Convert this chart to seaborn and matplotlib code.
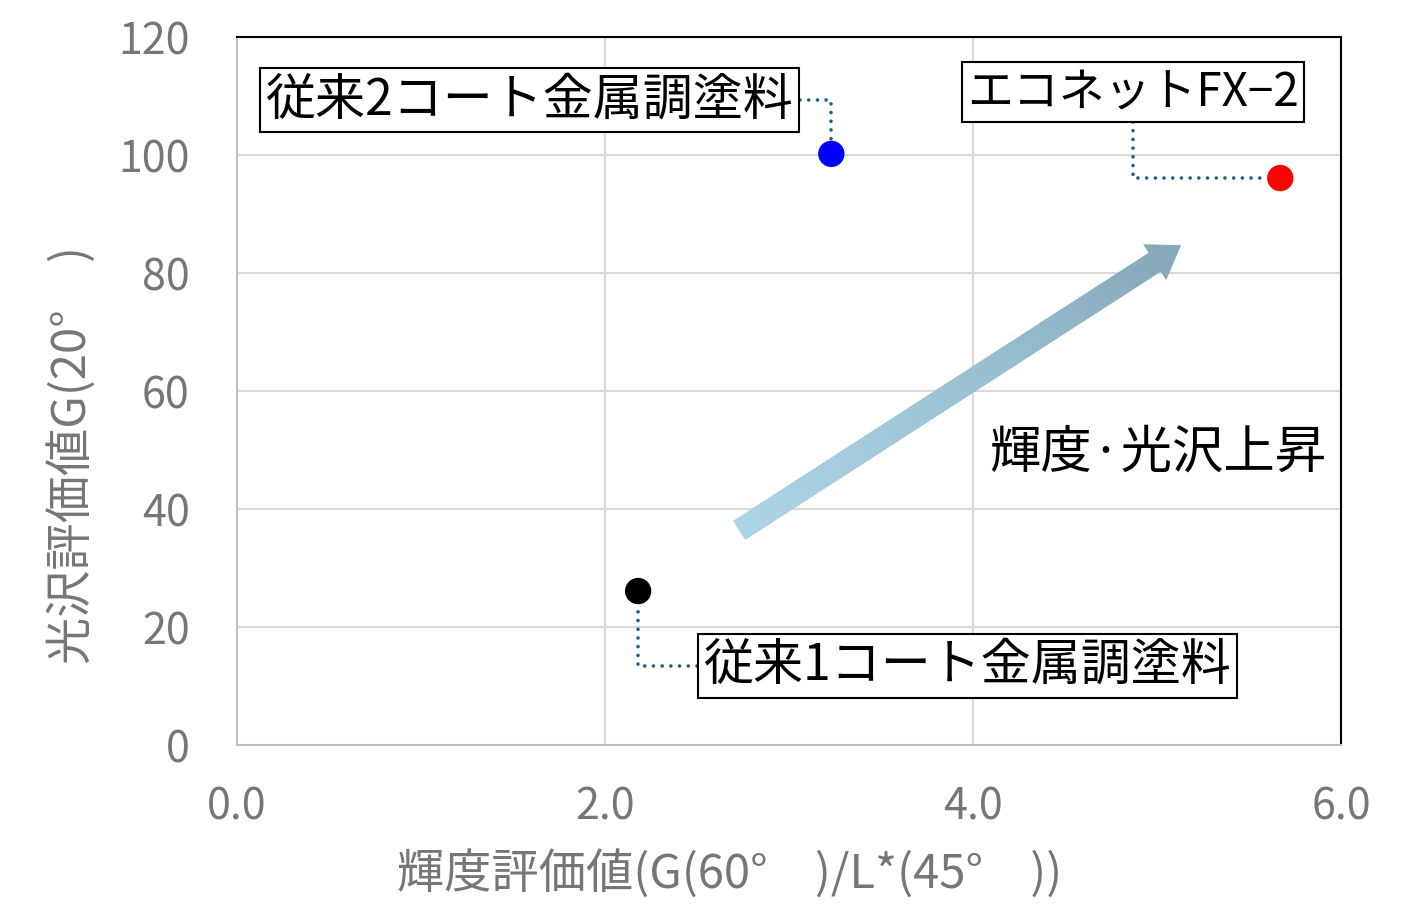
import matplotlib
matplotlib.use("Agg")
import matplotlib.pyplot as plt
from matplotlib.colors import LinearSegmentedColormap
import numpy as np
import seaborn as sns
import pandas as pd

# values
names = ["従来1コート金属調塗料", "従来2コート金属調塗料", "エコネットFX−2"]
brightness = [2.18, 3.23, 5.67]   # 輝度評価値
gloss = [26.1, 100.2, 96.1]       # 光沢評価値
colors = ["#000000", "#0000ff", "#ff0000"]

# where each label box sits (data coords) and how its leader bends
label_pos = [(3.97, 13.4), (1.59, 109.3), (4.87, 110.7)]
label_size = [36, 36, 33]
leader_style = ["angle,angleA=0,angleB=90,rad=0",
                "angle,angleA=0,angleB=90,rad=0",
                "angle,angleA=90,angleB=0,rad=0"]

trend_start = (2.73, 36.4)
trend_end = (5.13, 84.7)
trend_text = "輝度·光沢上昇"
trend_text_pos = (4.09, 49.5)

xticks = [0.0, 2.0, 4.0, 6.0]
yticks = [0, 20, 40, 60, 80, 100, 120]

sns.set_theme(style="white")
plt.rcParams["font.family"] = ["Noto Sans CJK JP", "DejaVu Sans"]

df = pd.DataFrame({"name": names, "x": brightness, "y": gloss})

fig = plt.figure(figsize=(14.21, 9.19), dpi=100)
ax = fig.add_axes([0.1668, 0.1893, 0.7769, 0.7704])

grey = "#767676"
ax.set_xlim(0, 6)
ax.set_ylim(0, 120)
ax.set_xticks(xticks)
ax.set_xticklabels([f"{t:.1f}" for t in xticks])
ax.set_yticks(yticks)
ax.grid(True, color="#d9d9d9", linewidth=1.5)
ax.set_axisbelow(True)
ax.tick_params(axis="both", colors=grey, labelsize=31, length=0)
ax.tick_params(axis="y", pad=34)
ax.tick_params(axis="x", pad=29)
for s in ["top", "right"]:
    ax.spines[s].set_color("#000000")
    ax.spines[s].set_linewidth(1.5)
for s in ["left", "bottom"]:
    ax.spines[s].set_color("#bfbfbf")
    ax.spines[s].set_linewidth(1.5)

# trend arrow, filled with a light-to-dark gradient
arr = ax.annotate("", xy=trend_end, xytext=trend_start,
                  arrowprops=dict(arrowstyle="simple,head_length=1.4,head_width=1.9,tail_width=1.0",
                                  mutation_scale=16, color="#98bfd0", lw=0,
                                  shrinkA=0, shrinkB=0),
                  zorder=2)
fig.canvas.draw()
grad = np.linspace(0, 1, 256)[None, :] * 0.6 + np.linspace(0, 1, 64)[:, None] * 0.4
cmap = LinearSegmentedColormap.from_list("arrow", ["#b0d8ea", "#9cc3d4", "#82a4b4"])
im = ax.imshow(grad, cmap=cmap, aspect="auto", origin="lower",
               extent=[trend_start[0] - 0.1, trend_end[0] + 0.1,
                       trend_start[1] - 6, trend_end[1] + 6],
               zorder=2.5)
im.set_clip_path(arr.arrow_patch)
ax.set_xlim(0, 6)
ax.set_ylim(0, 120)

ax.text(trend_text_pos[0], trend_text_pos[1], trend_text, fontsize=37,
        color="#000000", va="center", ha="left")

sns.scatterplot(data=df, x="x", y="y", hue="name", palette=dict(zip(names, colors)),
                s=360, edgecolor="none", legend=False, ax=ax, zorder=4)

for i, n in enumerate(names):
    ax.annotate(n, xy=(brightness[i], gloss[i]), xytext=label_pos[i],
                fontsize=label_size[i], color="#000000", ha="center", va="center",
                bbox=dict(boxstyle="square,pad=0.12", fc="white", ec="#000000", lw=1.5),
                arrowprops=dict(arrowstyle="-", connectionstyle=leader_style[i],
                                color="#1d5f80", lw=2.6, linestyle=(0, (0.01, 2.4)),
                                capstyle="round", shrinkA=0, shrinkB=9),
                zorder=3)

ax.set_xlabel("輝度評価値(G(60°　)/L*(45°　))", fontsize=34, color=grey)
ax.set_ylabel("光沢評価値G(20°　)", fontsize=34, color=grey)
ax.xaxis.set_label_coords(0.4466, -0.148)
ax.yaxis.set_label_coords(-0.127, 0.41)

fig.savefig("out.png", dpi=100)
